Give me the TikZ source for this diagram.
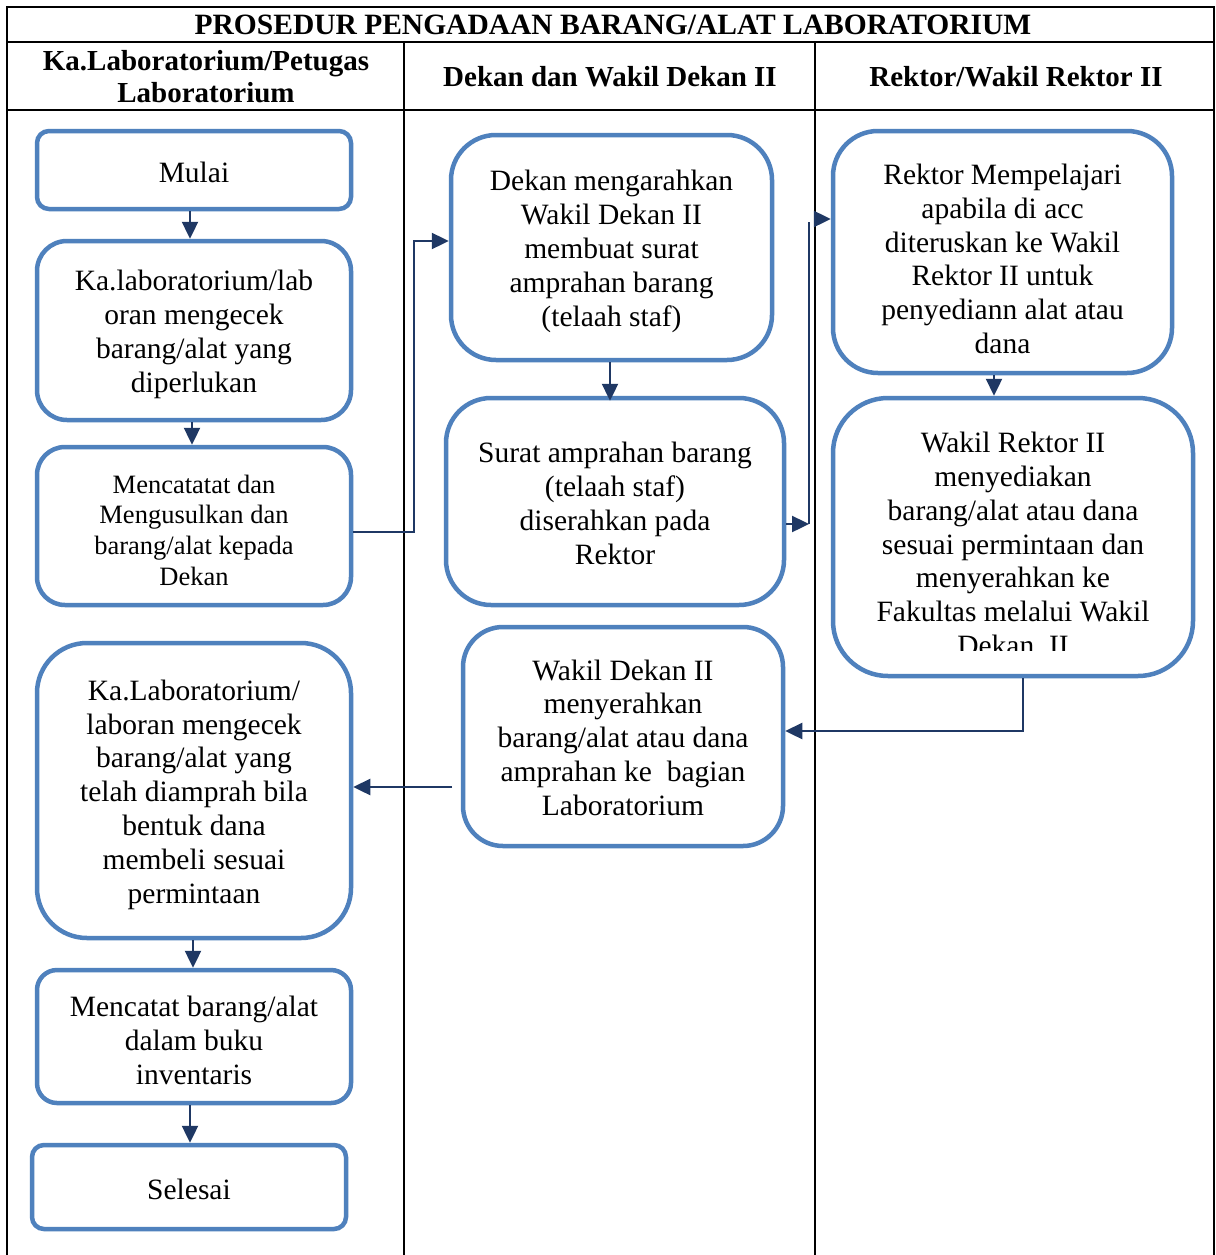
\documentclass[tikz,border=0pt]{standalone}
\usepackage{fontspec}
\setmainfont{Liberation Serif}
\usetikzlibrary{arrows.meta}
\definecolor{boxblue}{HTML}{4F81BD}
\definecolor{navy}{HTML}{1F3864}
\begin{document}
\begin{tikzpicture}[x=1pt,y=-1pt,
  box/.style={draw=boxblue, line width=4.5pt, rectangle, inner sep=0pt},
  arr/.style={draw=navy, line width=2.4pt, -{Triangle[length=17pt,width=16pt]}},
  ln/.style={draw=navy, line width=2.4pt},
  gridline/.style={draw=black, line width=1.3pt},
  txt/.style={font=\fontsize{29.5}{33.8}\selectfont, align=center, inner sep=0pt},
  smalltxt/.style={font=\fontsize{26.5}{30.7}\selectfont, align=center, inner sep=0pt},
  head/.style={font=\bfseries\fontsize{29}{32}\selectfont, align=center},
  ttl/.style={font=\bfseries\fontsize{29.5}{32}\selectfont}]
\useasboundingbox (0,0) rectangle (1215,1255);
\fill[white] (0,0) rectangle (1215,1255);
% table
\draw[gridline] (7,1255) -- (7,7) -- (1214,7) -- (1214,1255);
\draw[gridline] (7,42) -- (1214,42);
\draw[gridline] (7,110) -- (1214,110);
\draw[gridline] (404,42) -- (404,1255);
\draw[gridline] (815,42) -- (815,1255);
\node[ttl] (title) at (613,25) {PROSEDUR PENGADAAN BARANG/ALAT LABORATORIUM};
\node[head] (h1) at (206,77) {Ka.Laboratorium/Petugas\\Laboratorium};
\node[head] (h2) at (610,77) {Dekan dan Wakil Dekan II};
\node[head] (h3) at (1016,77) {Rektor/Wakil Rektor II};
% left column
\node[box, rounded corners=12pt, minimum width=314pt, minimum height=78pt] (b1) at (194,170) {};
\node[txt] (t1) at (194,172) {Mulai};
\node[box, rounded corners=30pt, minimum width=314pt, minimum height=179pt] (b2) at (194,330.5) {};
\node[txt] (t2) at (194,334.5) {Ka.laboratorium/lab\\oran mengecek\\barang/alat yang\\diperlukan};
\node[box, rounded corners=28pt, minimum width=314pt, minimum height=158pt] (b3) at (194,526) {};
\node[smalltxt] (t3) at (194,530) {Mencatatat dan\\Mengusulkan dan\\barang/alat kepada\\Dekan};
\node[box, rounded corners=50pt, minimum width=314pt, minimum height=295pt] (b4) at (194,790.5) {};
\node[txt] (t4) at (194,794.5) {Ka.Laboratorium/\\laboran mengecek\\barang/alat yang\\telah diamprah bila\\bentuk dana\\membeli sesuai\\permintaan};
\node[box, rounded corners=20pt, minimum width=314pt, minimum height=133pt] (b5) at (194,1036.5) {};
\node[txt] (t5) at (194,1040.5) {Mencatat barang/alat\\dalam buku\\inventaris};
\node[box, rounded corners=12pt, minimum width=314pt, minimum height=84pt] (b6) at (189,1187) {};
\node[txt] (t6) at (189,1189) {Selesai};
% middle column
\node[box, rounded corners=45pt, minimum width=321pt, minimum height=225pt] (b7) at (611.5,247.5) {};
\node[txt] (t7) at (611.5,251.5) {Dekan mengarahkan\\Wakil Dekan II\\membuat surat\\amprahan barang\\(telaah staf)};
\node[box, rounded corners=45pt, minimum width=338pt, minimum height=207pt] (b8) at (615,501.5) {};
\node[txt] (t8) at (615,503.5) {Surat amprahan barang\\(telaah staf)\\diserahkan pada\\Rektor};
\node[box, rounded corners=40pt, minimum width=320pt, minimum height=219pt] (b9) at (623,736.5) {};
\node[txt] (t9) at (623,737.5) {Wakil Dekan II\\menyerahkan\\barang/alat atau dana\\amprahan ke\ \ bagian\\Laboratorium};
% right column
\node[box, rounded corners=45pt, minimum width=339pt, minimum height=242pt] (b10) at (1002.5,252) {};
\node[txt] (t10) at (1002.5,259) {Rektor Mempelajari\\apabila di acc\\diteruskan ke Wakil\\Rektor II untuk\\penyediann alat atau\\dana};
\node[box, rounded corners=55pt, minimum width=360pt, minimum height=278pt] (b11) at (1013,537) {};
\begin{scope}
\clip (840,405) rectangle (1190,650);
\node[txt, anchor=north] (t11) at (1013,432) {Wakil Rektor II\\menyediakan\\barang/alat atau dana\\sesuai permintaan dan\\menyerahkan ke\\Fakultas melalui Wakil\\Dekan\ \ II};
\end{scope}
% connectors
\coordinate (c1a) at (190,0);
\draw[arr] (b1.south -| c1a) -- (b2.north -| c1a);
\coordinate (c2a) at (192,0);
\draw[arr] (b2.south -| c2a) -- (b3.north -| c2a);
\coordinate (c3a) at (0,532);
\coordinate (c3b) at (414,532);
\coordinate (c3c) at (0,241);
\draw[arr] (b3.east |- c3a) -- (c3b) |- (b7.west |- c3c);
\coordinate (c7a) at (610,0);
\draw[arr] (b7.south -| c7a) -- ([yshift=-5pt]b8.north -| c7a);
\coordinate (c8a) at (809,524);
\coordinate (c8b) at (809,222);
\coordinate (c8c) at (815,219);
\draw[arr] (b8.east |- c8a) -- (c8a);
\draw[ln] (c8a) -- (c8b);
\draw[arr] (c8c) -- (b10.west |- c8c);
\coordinate (c10a) at (994,0);
\draw[arr] (b10.south -| c10a) -- (b11.north -| c10a);
\coordinate (c11a) at (1023,0);
\coordinate (c11b) at (1023,731);
\draw[arr] (b11.south -| c11a) -- (c11b) -- (b9.east |- c11b);
\coordinate (c9a) at (452,787);
\draw[arr] (c9a) -- (b4.east |- c9a);
\coordinate (c4a) at (193,0);
\draw[arr] (b4.south -| c4a) -- (b5.north -| c4a);
\coordinate (c5a) at (190,0);
\draw[arr] (b5.south -| c5a) -- (b6.north -| c5a);
\end{tikzpicture}
\end{document}
